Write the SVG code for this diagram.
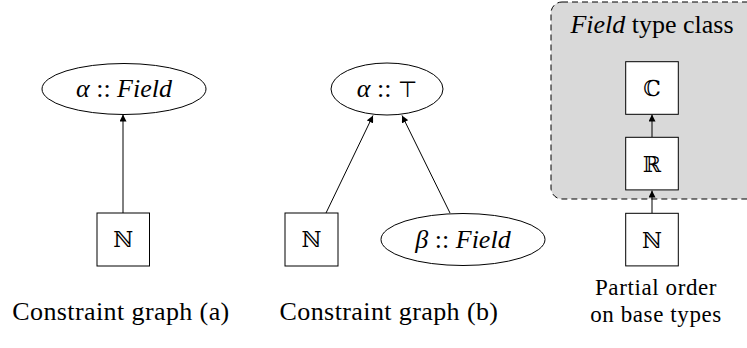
<svg xmlns="http://www.w3.org/2000/svg" width="747" height="348" viewBox="0 0 747 348">
<style>
text{font-family:'Liberation Serif','Times New Roman','DejaVu Serif',serif;font-size:26px;fill:#000;text-anchor:middle}
.it{font-style:italic}
.bb{font-family:'DejaVu Serif','DejaVu Sans',serif;font-size:22px}
.top{font-family:'DejaVu Sans',sans-serif;font-size:22px;font-style:normal}
.cap2{font-size:23px;letter-spacing:0.6px}
.node{fill:#fff;stroke:#000;stroke-width:1}
.edge{stroke:#000;stroke-width:1;fill:none;marker-end:url(#ah)}
</style>
<defs>
<marker id="ah" viewBox="0 0 10 10" refX="10" refY="5" markerWidth="7" markerHeight="7" markerUnits="userSpaceOnUse" orient="auto">
<path d="M0,0 L10,5 L0,10 z" fill="#000"/>
</marker>
</defs>
<g id="cluster-field">
<rect x="551" y="2" width="210" height="197" rx="11" ry="11" fill="#d9d9d9" stroke="#000" stroke-width="1" stroke-dasharray="6,4"/>
<text x="652" y="33"><tspan class="it">Field</tspan> type class</text>
</g>
<g id="connectors">
<line class="edge" x1="123" y1="213" x2="123" y2="114.5"/>
<line class="edge" x1="326" y1="213" x2="373" y2="115.5"/>
<line class="edge" x1="450" y1="213" x2="402" y2="115.5"/>
<line class="edge" x1="652" y1="137" x2="652" y2="114.5"/>
<line class="edge" x1="652" y1="213" x2="652" y2="190.5"/>
</g>
<g id="a-alpha">
<ellipse class="node" cx="124" cy="89" rx="82" ry="25.5"/>
<text x="124" y="97"><tspan class="it">α</tspan> :: <tspan class="it">Field</tspan></text>
</g>
<g id="a-N">
<rect class="node" x="97" y="213" width="52.5" height="53"/>
<text class="bb" x="123.2" y="247">ℕ</text>
</g>
<g id="b-alpha">
<ellipse class="node" cx="387" cy="89" rx="56" ry="26"/>
<text x="387" y="97"><tspan class="it">α</tspan> :: <tspan class="top">⊤</tspan></text>
</g>
<g id="b-N">
<rect class="node" x="285" y="213" width="53" height="53"/>
<text class="bb" x="311.5" y="247">ℕ</text>
</g>
<g id="b-beta">
<ellipse class="node" cx="463" cy="239.5" rx="82" ry="26"/>
<text x="463" y="248"><tspan class="it">β</tspan> :: <tspan class="it">Field</tspan></text>
</g>
<g id="p-C">
<rect class="node" x="625.7" y="61.7" width="52.6" height="52.6"/>
<text class="bb" x="652" y="96">ℂ</text>
</g>
<g id="p-R">
<rect class="node" x="625.7" y="137.3" width="52.6" height="52.6"/>
<text class="bb" x="652" y="171.5">ℝ</text>
</g>
<g id="p-N">
<rect class="node" x="625.7" y="213.3" width="52.6" height="52.6"/>
<text class="bb" x="652" y="247.5">ℕ</text>
</g>
<g id="captions">
<text x="121" y="320" letter-spacing="0.4">Constraint graph (a)</text>
<text x="389" y="320" letter-spacing="0.4">Constraint graph (b)</text>
<text class="cap2" x="656" y="295">Partial order</text>
<text class="cap2" x="656" y="322">on base types</text>
</g>
</svg>
